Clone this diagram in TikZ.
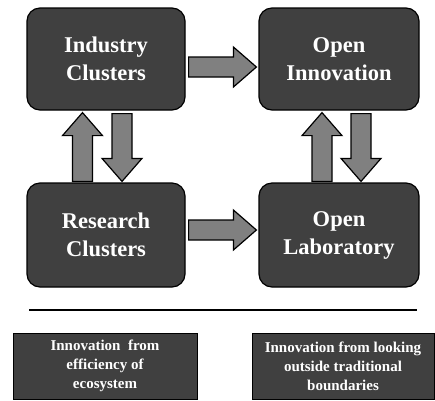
\documentclass[tikz,border=0pt]{standalone}
\usepackage{fontspec}
\setmainfont{Liberation Serif}
\usepackage{tikz}
\usetikzlibrary{calc, positioning}

\definecolor{boxgray}{HTML}{404040}
\definecolor{arrowgray}{HTML}{808080}

\tikzset{
    cluster/.style={draw=black, line width=1.2pt, fill=boxgray, rounded corners=13pt,
        text=white, font=\fontsize{22.5}{28}\selectfont\bfseries, align=center,
        minimum width=158pt, minimum height=102pt, inner sep=0pt},
    caption/.style={draw=black, line width=0.8pt, fill=boxgray, text=white,
        font=\fontsize{15}{19}\selectfont\bfseries, align=center,
        minimum height=66pt, inner sep=0pt},
    arrowbody/.style={draw=black, line width=1.2pt, fill=arrowgray, line join=miter}
}

% fat arrow from #1 to #2
\newcommand{\blockarrow}[2]{%
    \path (#1) coordinate (ba-s) (#2) coordinate (ba-e);
    \path ($(ba-e)!23pt!(ba-s)$) coordinate (ba-h);
    \draw[arrowbody] ($(ba-s)!10pt!90:(ba-e)$) -- ($(ba-h)!10pt!90:(ba-e)$)
        -- ($(ba-h)!20pt!90:(ba-e)$) -- (ba-e) -- ($(ba-h)!20pt!-90:(ba-e)$)
        -- ($(ba-h)!10pt!-90:(ba-e)$) -- ($(ba-s)!10pt!-90:(ba-e)$) -- cycle;
}

\begin{document}
\begin{tikzpicture}[x=1pt, y=-1pt]
        \useasboundingbox (0,0) rectangle (435,400);

        % Boxes
        \node[cluster] (industry) at (106, 59) {Industry\\Clusters};
        \node[cluster, minimum width=160pt] (openinno) at (339, 59) {Open\\Innovation};
        \node[cluster, minimum height=104pt] (research) at (106, 235) {Research\\Clusters};
        \node[cluster, minimum width=160pt, minimum height=104pt] (openlab) at (339, 235) {Open\\Laboratory};

        % Arrows
        \blockarrow{$(industry.east)+(3,8)$}{$(openinno.west)+(-2,8)$}
        \blockarrow{$(research.east)+(3,-5)$}{$(openlab.west)+(-2,-5)$}
        \blockarrow{$(research.north)+(-23.5,-1)$}{$(industry.south)+(-23.5,2)$}
        \blockarrow{$(industry.south)+(16,3)$}{$(research.north)+(16,-1)$}
        \blockarrow{$(openlab.north)+(-17,-1)$}{$(openinno.south)+(-17,2)$}
        \blockarrow{$(openinno.south)+(22,3)$}{$(openlab.north)+(22,-1)$}

        % Separator
        \coordinate (sepleft) at (29, 310);
        \coordinate (sepright) at (417, 310);
        \draw[line width=1.6pt] (sepleft) -- (sepright);

        % Captions
        \node[caption, minimum width=184pt] (efficiency) at (105, 366) {Innovation\ \ from\\efficiency\ of\\ecosystem};
        \node[caption, minimum width=182pt] (outside) at (343, 366.5) {Innovation\ from\ looking\\outside\ traditional\\boundaries};

    \end{tikzpicture}
\end{document}
